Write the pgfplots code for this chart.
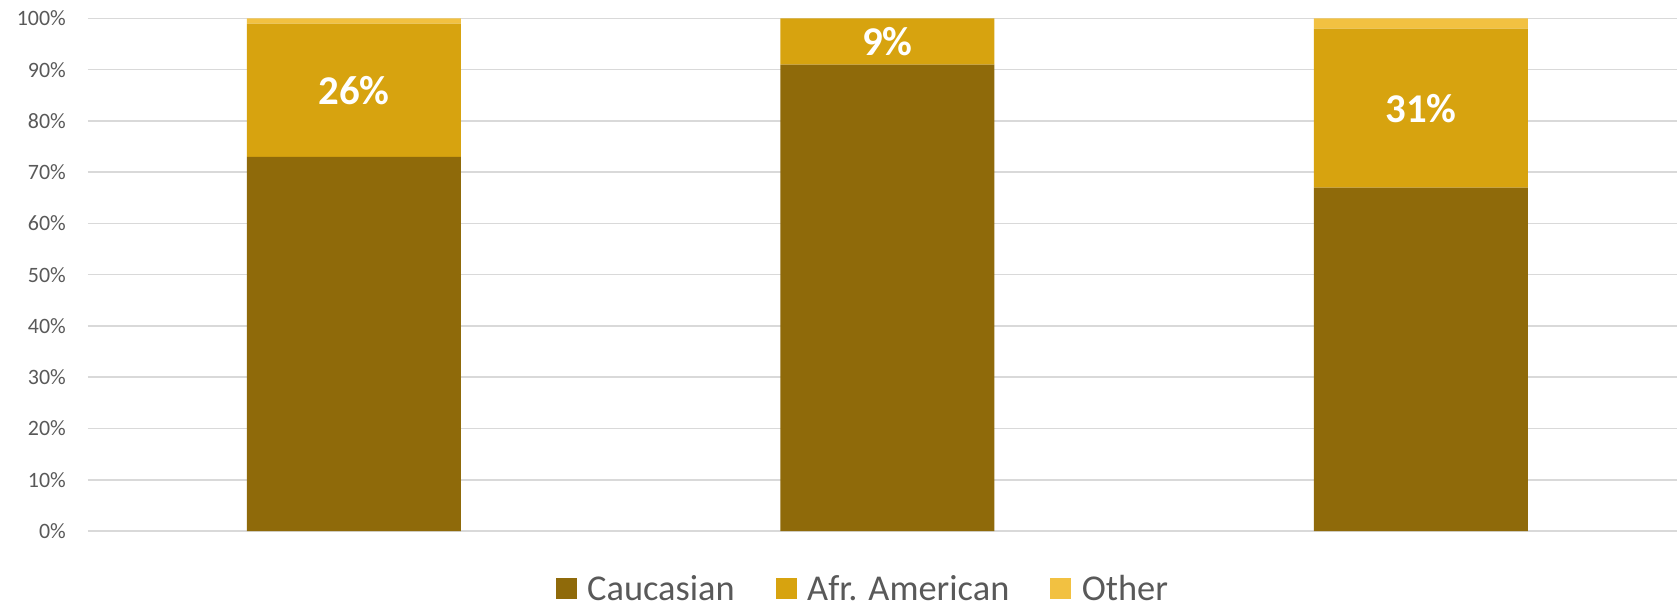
\documentclass[border=0pt]{standalone}
\usepackage{pgfplots}
\pgfplotsset{compat=1.18}
\usepackage{fontspec}
\setmainfont{Carlito}
\definecolor{cauc}{HTML}{8F6A0A}
\definecolor{afr}{HTML}{D7A30F}
\definecolor{oth}{HTML}{F2C141}
\definecolor{gridg}{HTML}{D9D9D9}
\definecolor{txtg}{HTML}{595959}
\begin{document}
\begin{tikzpicture}
\useasboundingbox (-88bp,-72bp) rectangle (1589bp,531bp);
\begin{axis}[
  scale only axis,
  width=1589bp, height=512.5bp,
  xmin=-0.4986, xmax=2.480, ymin=0, ymax=100,
  enlargelimits=false,
  ybar stacked,
  bar width=214bp,
  xtick=\empty,
  ytick={0,10,...,100},
  yticklabel={\pgfmathparse{int(\tick)}\pgfmathresult\%},
  yticklabel style={font=\fontsize{22}{26}\selectfont, text=txtg, inner xsep=0pt, xshift=-22bp},
  major tick length=0pt,
  axis line style={draw=none},
  ymajorgrids,
  grid style={color=gridg, line width=1.5bp},
  legend columns=3,
  legend style={at={(0.487,-0.0825)}, anchor=north, draw=none, fill=none,
    font=\fontsize{36.5}{44}\selectfont, text=txtg,
    nodes={inner xsep=0pt, inner ysep=0pt, text depth=0pt},
    /tikz/every odd column/.append style={column sep=10.5bp},
    /tikz/every even column/.append style={column sep=41bp}},
  legend image code/.code={\fill[#1] (0bp,-10.5bp) rectangle (21bp,10.5bp);},
]
\addplot[fill=cauc, draw=none] coordinates {(0,73) (1,91) (2,67)};
\addplot[fill=afr, draw=none] coordinates {(0,26) (1,9) (2,31)};
\addplot[fill=oth, draw=none] coordinates {(0,1) (1,0) (2,2)};
\legend{Caucasian, Afr. American, Other}
\end{axis}
\begin{axis}[
  scale only axis,
  width=1589bp, height=512.5bp,
  xmin=-0.4986, xmax=2.480, ymin=0, ymax=100,
  enlargelimits=false,
  hide axis,
]
\addplot[only marks, mark=none, nodes near coords, point meta=explicit symbolic,
  every node near coord/.style={anchor=center, text=white, font=\fontsize{41}{48}\selectfont\bfseries}]
  coordinates {(0,86) [26\%] (1,95.5) [9\%] (2,82.5) [31\%]};
\end{axis}
\end{tikzpicture}
\end{document}
